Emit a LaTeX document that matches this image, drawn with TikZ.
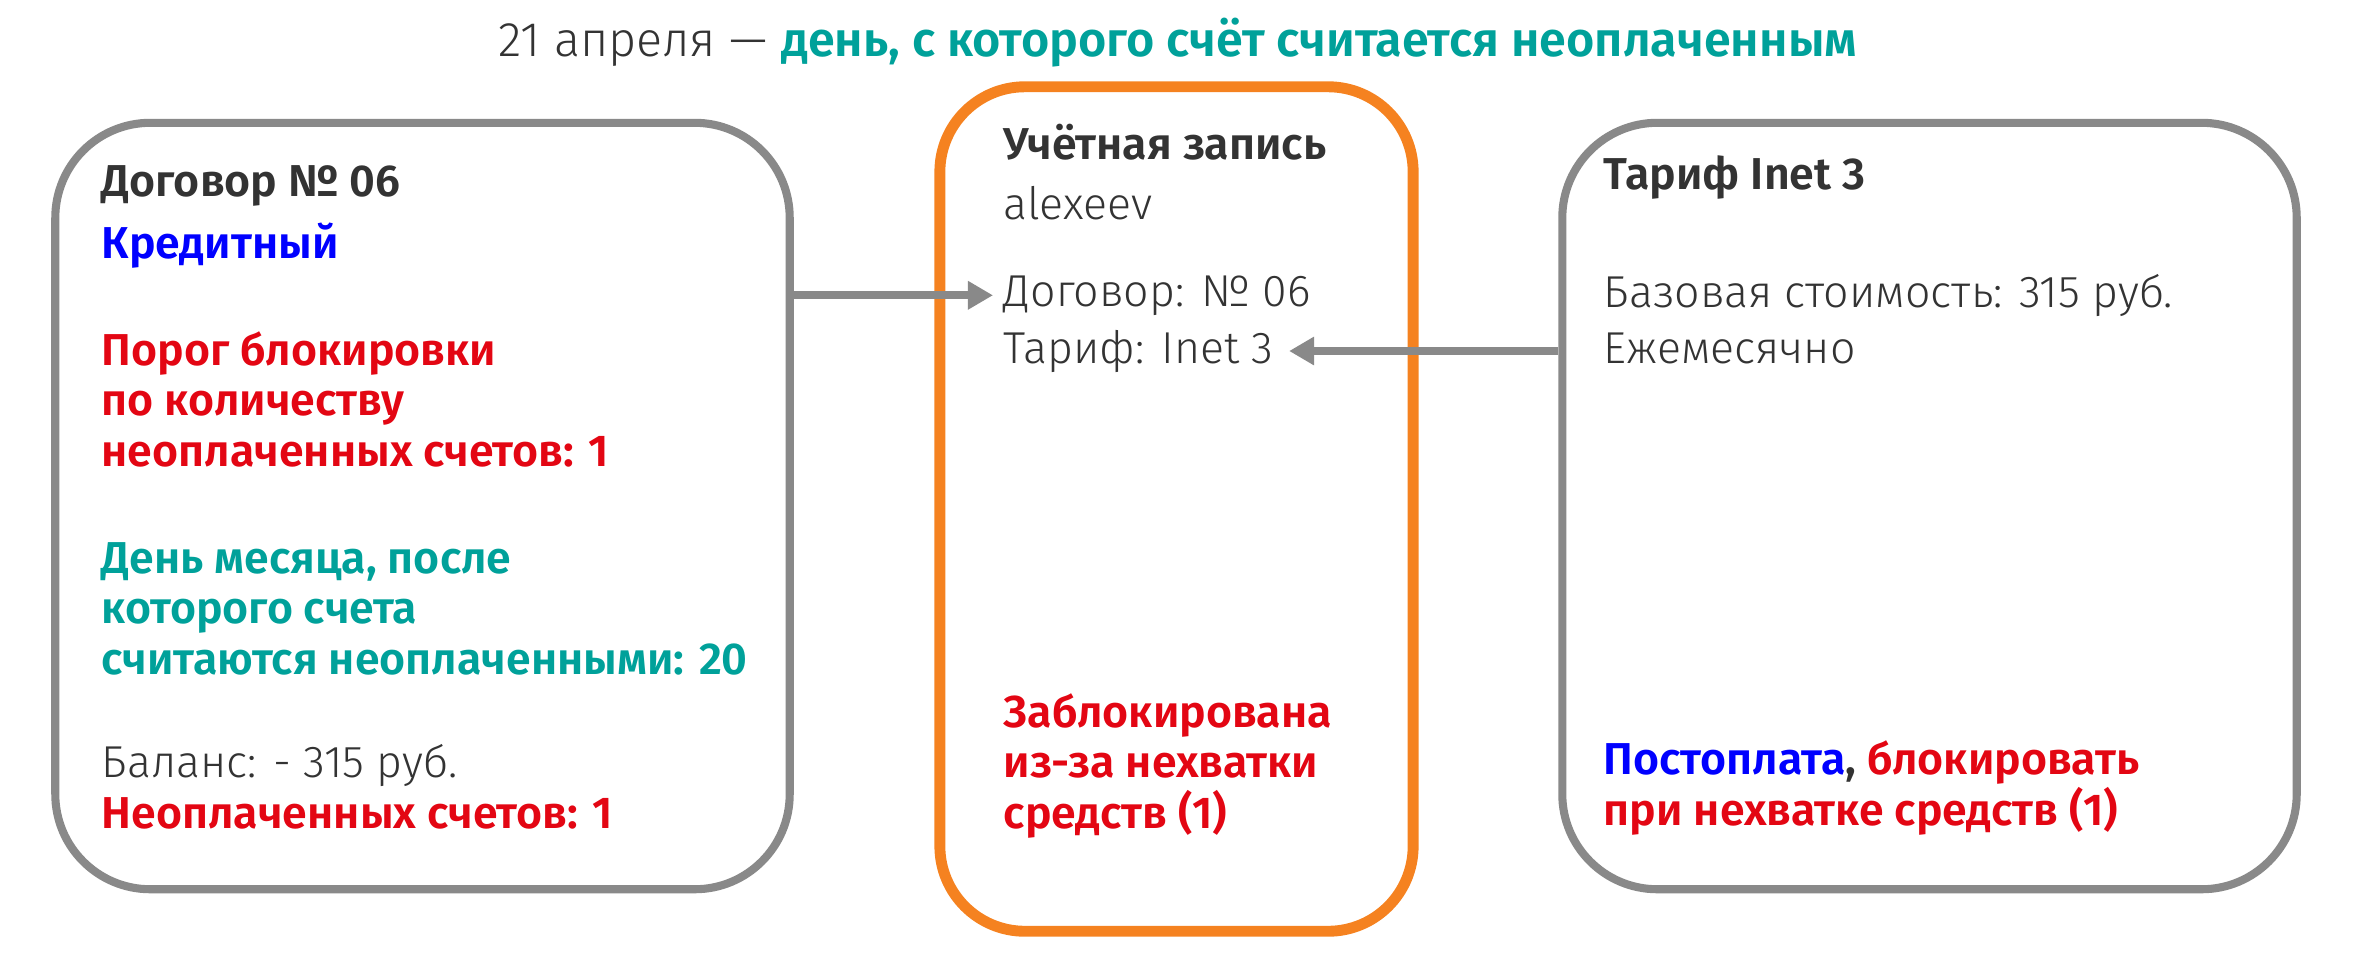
\documentclass[tikz,border=0pt]{standalone}
\usepackage{fontspec}
\setmainfont{Fira Sans}[UprightFont=* Light, BoldFont=* SemiBold]
\usepackage{xcolor}
\usetikzlibrary{positioning, arrows.meta}

\definecolor{boxgray}{HTML}{898989}
\definecolor{accorange}{HTML}{F58220}
\definecolor{txtdark}{HTML}{333333}
\definecolor{warnred}{HTML}{E30613}
\definecolor{infoblue}{HTML}{0000FF}
\definecolor{dayteal}{HTML}{00A19A}

\tikzset{
  card/.style={draw=boxgray, line width=2.3pt, rounded corners=0.95cm,
    minimum width=7.34cm, minimum height=7.66cm},
  account/.style={draw=accorange, line width=3.1pt, rounded corners=0.85cm,
    minimum width=4.73cm, minimum height=8.44cm},
  txt/.style={anchor=base west, inner sep=0pt, align=left, text=txtdark,
    font=\fontsize{12.7}{14.3}\selectfont},
  link/.style={draw=boxgray, line width=2.3pt,
    -{Triangle[length=0.25cm, width=0.27cm]}}
}

\begin{document}
\begin{tikzpicture}[x=0.01cm, y=-0.01cm]
    \useasboundingbox (0,0) rectangle (2354,959);

    \node[txt, anchor=base, font=\fontsize{13.8}{16}\selectfont] (title) at (1178,56)
      {21 апреля — \textcolor{dayteal}{\textbf{день, с которого счёт считается неоплаченным}}};

    \node[card] (lcard) at (422.5,506) {};
    \node[account] (acc) at (1176.5,509) {};
    \node[card] (rcard) at (1929.5,506) {};

    % contract (multi-line nodes sit on their last line)
    \node[txt] (lhead) at (101,196) {\textbf{Договор № 06}};
    \node[txt, text=infoblue] (ltype) at (101,258) {\textbf{Кредитный}};
    \node[txt, text=warnred] (lthr) at (101,466)
      {\textbf{Порог блокировки}\\\textbf{по количеству}\\\textbf{неоплаченных счетов: 1}};
    \node[txt, text=dayteal] (lday) at (101,674)
      {\textbf{День месяца, после}\\\textbf{которого счета}\\\textbf{считаются неоплаченными: 20}};
    \node[txt] (lbal) at (101,828)
      {Баланс: - 315 руб.\\\textcolor{warnred}{\textbf{Неоплаченных счетов: 1}}};

    % account
    \node[txt] (mhead) at (1003,159) {\textbf{Учётная запись}};
    \node[txt] (mlogin) at (1003,219) {alexeev};
    \node[txt] (mdog) at (1003,306) {Договор: № 06};
    \node[txt] (mtar) at (1003,363) {Тариф: Inet 3};
    \node[txt, text=warnred] (mblock) at (1003,828)
      {\textbf{Заблокирована}\\\textbf{из-за нехватки}\\\textbf{средств (1)}};

    % tariff
    \node[txt] (rhead) at (1603,189) {\textbf{Тариф Inet 3}};
    \node[txt] (rcost) at (1603,307) {Базовая стоимость: 315 руб.};
    \node[txt] (rmonth) at (1603,363) {Ежемесячно};
    \node[txt] (rpay) at (1603,825)
      {\textbf{\textcolor{infoblue}{Постоплата}, \textcolor{warnred}{блокировать}}\\
       \textcolor{warnred}{\textbf{при нехватке средств (1)}}};

    \draw[link, shorten >=0.1cm] (lcard.east |- mdog.west) -- (mdog.west);
    \draw[link, shorten >=0.15cm] (rcard.west |- mtar.east) -- (mtar.east);
\end{tikzpicture}
\end{document}
